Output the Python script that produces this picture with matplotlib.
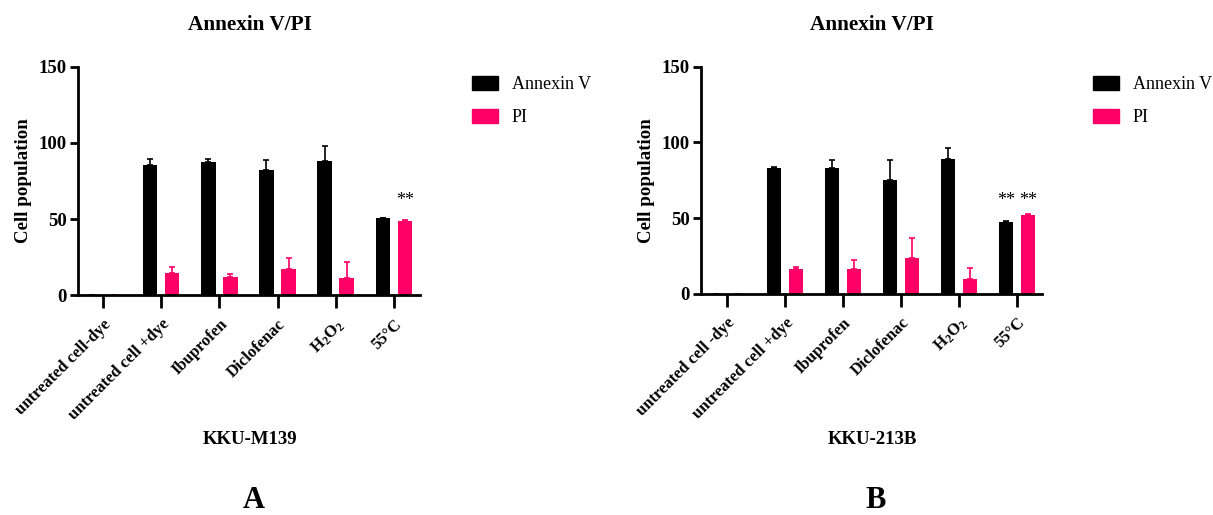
import numpy as np
import matplotlib
matplotlib.use("Agg")
import matplotlib.pyplot as plt

plt.rcParams['font.family'] = ['Liberation Serif', 'DejaVu Serif']
plt.rcParams['mathtext.fontset'] = 'custom'
plt.rcParams['mathtext.rm'] = 'Liberation Serif'
plt.rcParams['mathtext.bf'] = 'Liberation Serif:bold'

labels_a = ["untreated cell-dye", "untreated cell +dye", "Ibuprofen", "Diclofenac",
            r"$\mathbf{H_2O_2}$", "55°C"]
labels_b = ["untreated cell -dye", "untreated cell +dye", "Ibuprofen", "Diclofenac",
            r"$\mathbf{H_2O_2}$", "55°C"]

# KKU-M139
annexin_a = [0, 85.5, 87.3, 82.2, 88.1, 50.7]
annexin_a_err = [0, 3.7, 2.3, 6.6, 10.1, 0.3]
pi_a = [0, 14.4, 11.8, 17.3, 11.4, 48.8]
pi_a_err = [0, 4.4, 2.4, 7.0, 10.7, 0.8]
stars_a = ["", "**"]   # annexin, PI at 55°C

# KKU-213B
annexin_b = [0, 83.2, 83.2, 75.3, 89.2, 47.7]
annexin_b_err = [0, 0.9, 5.5, 13.4, 7.4, 0.3]
pi_b = [0, 16.5, 16.5, 23.9, 10.1, 52.3]
pi_b_err = [0, 1.1, 5.7, 12.8, 6.8, 0.3]
stars_b = ["**", "**"]

black = "#000000"
pink = "#ff0066"

fig = plt.figure(figsize=(12.13, 5.15), dpi=100)


def panel(rect, xlim, labels, ann, ann_err, pi, pi_err, stars, cell, letter, cx, lx):
    ax = fig.add_axes(rect)
    x = np.arange(len(labels))
    w = 0.25
    ax.bar(x - 0.19, ann, w, color=black)
    ax.bar(x + 0.19, pi, w, color=pink)
    ax.errorbar(x - 0.19, ann, yerr=[np.zeros(len(ann)), ann_err], fmt='none',
                ecolor=black, elinewidth=1.2, capsize=2.5, capthick=1.2)
    ax.errorbar(x + 0.19, pi, yerr=[np.zeros(len(pi)), pi_err], fmt='none',
                ecolor=pink, elinewidth=1.2, capsize=2.5, capthick=1.2)
    if stars[0]:
        ax.text(5 - 0.19, 62, stars[0], ha='center', va='center', fontsize=13)
    if stars[1]:
        ax.text(5 + 0.19, 62, stars[1], ha='center', va='center', fontsize=13)
    ax.set_xlim(*xlim)
    ax.set_ylim(0, 150)
    ax.set_yticks([0, 50, 100, 150])
    ax.set_xticks(x)
    ax.set_xticklabels(labels, rotation=45, ha='right', rotation_mode='anchor',
                       fontsize=12, fontweight='bold')
    for t in ax.get_yticklabels():
        t.set_fontweight('bold')
        t.set_fontsize(13.5)
    ax.spines['top'].set_visible(False)
    ax.spines['right'].set_visible(False)
    ax.spines['left'].set_linewidth(2)
    ax.spines['bottom'].set_linewidth(2)
    ax.tick_params(axis='y', length=6, width=2, pad=2)
    ax.tick_params(axis='x', length=9, width=2, pad=6)
    ax.set_ylabel("Cell population", fontsize=13.6, fontweight='bold', labelpad=5)
    fig.text(cx, 1 - 25 / 515, "Annexin V/PI", ha='center', va='center',
             fontsize=15.3, fontweight='bold')
    fig.text(cx, 1 - 440 / 515, cell, ha='center', va='center', fontsize=13.5,
             fontweight='bold')
    fig.text(cx + 0.003, 1 - 501 / 515, letter, ha='center', va='center', fontsize=22,
             fontweight='bold')
    h1 = plt.Rectangle((0, 0), 1, 1, color=black)
    h2 = plt.Rectangle((0, 0), 1, 1, color=pink)
    fig.legend([h1, h2], ["Annexin V", "PI"], loc='upper left',
               bbox_to_anchor=(lx, 1 - 76 / 515), frameon=False, fontsize=13,
               handlelength=1.45, handleheight=0.85, handletextpad=0.75,
               labelspacing=0.85, borderpad=0, borderaxespad=0)
    return ax


panel([78 / 1213, 1 - 295.3 / 515, 342 / 1213, 228.6 / 515], (-0.43, 5.45),
      labels_a, annexin_a, annexin_a_err, pi_a, pi_a_err, stars_a,
      "KKU-M139", "A", 250 / 1213, 472 / 1213)
panel([701 / 1213, 1 - 294 / 515, 341 / 1213, 227.3 / 515], (-0.45, 5.43),
      labels_b, annexin_b, annexin_b_err, pi_b, pi_b_err, stars_b,
      "KKU-213B", "B", 872 / 1213, 1093 / 1213)

fig.savefig("out.png", dpi=100)
